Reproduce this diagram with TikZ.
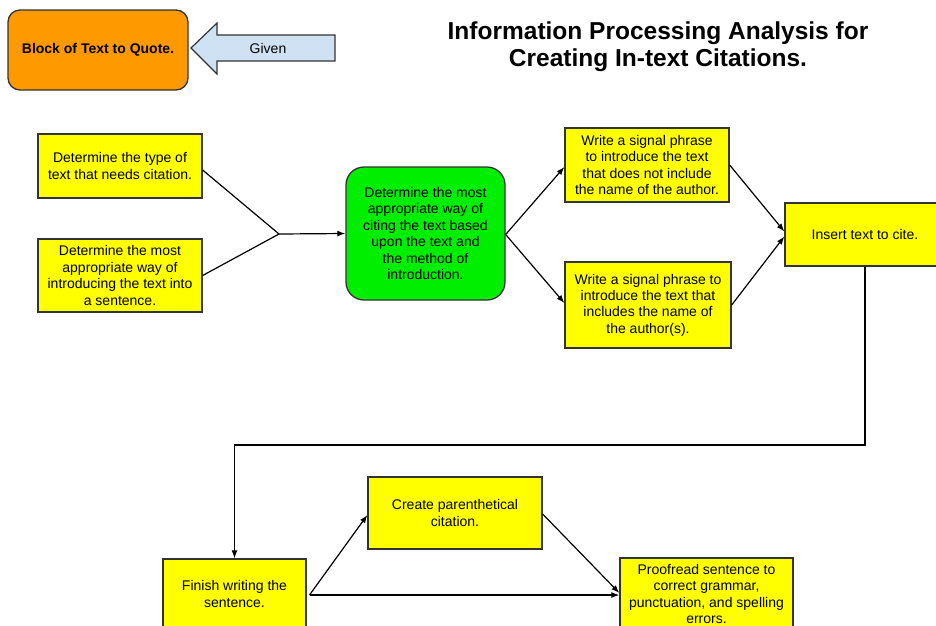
\documentclass[tikz,border=0pt]{standalone}
\usepackage{fontspec}
\setmainfont{Liberation Sans}
\usetikzlibrary{arrows.meta,calc}
\definecolor{boxyellow}{HTML}{FFFF00}
\definecolor{boxorange}{HTML}{FF9900}
\definecolor{boxgreen}{HTML}{00EE00}
\definecolor{givenblue}{HTML}{CFE2F3}
\definecolor{edgegray}{HTML}{333333}
\begin{document}
\begin{tikzpicture}[x=1pt,y=-1pt,
  box/.style={draw=edgegray, fill=boxyellow, line width=1.3pt, align=center, inner sep=0pt,
    font=\fontsize{14}{16.4}\selectfont},
  conn/.style={draw=black, line width=1.2pt, -{Latex[length=8pt,width=6pt]}},
  plainline/.style={draw=black, line width=1.2pt}]
\clip (0,0) rectangle (936,625);
\fill[white] (0,0) rectangle (936,625);

% title
\node[align=center, font=\fontsize{24.5}{27}\selectfont\bfseries] (title) at (658,47)
  {Information Processing Analysis for\\Creating In-text Citations.};

% given block
\node[draw=edgegray, fill=boxorange, line width=1.3pt, rounded corners=12pt,
  minimum width=180pt, minimum height=80pt, inner sep=0pt,
  font=\fontsize{14}{16.4}\selectfont\bfseries] (quote) at (98,50) {Block of Text to Quote.};
\draw[draw=edgegray, fill=givenblue, line width=1.2pt]
  (191,48) -- (217,23) -- (217,35) -- (335,35) -- (335,61) -- (217,61) -- (217,74) -- cycle;
\node[font=\fontsize{14}{16.4}\selectfont] (given) at (268,48) {Given};

% first row
\node[box, minimum width=164pt, minimum height=64pt] (A) at (120,166)
  {Determine the type of\\text that needs citation.};
\node[box, minimum width=164pt, minimum height=73pt] (B) at (120,275.5)
  {Determine the most\\appropriate way of\\introducing the text into\\a sentence.};
\node[box, fill=boxgreen, rounded corners=18pt, minimum width=159pt, minimum height=133pt] (G) at (425.5,233.5)
  {Determine the most\\appropriate way of\\citing the text based\\upon the text and\\the method of\\introduction.};
\node[box, minimum width=164pt, minimum height=74pt] (C) at (647,165)
  {Write a signal phrase\\to introduce the text\\that does not include\\the name of the author.};
\node[box, minimum width=166pt, minimum height=86pt] (D) at (648,305)
  {Write a signal phrase to\\introduce the text that\\includes the name of\\the author(s).};
\node[box, minimum width=160pt, minimum height=63pt] (E) at (865,234.5)
  {Insert text to cite.};

% bottom row
\node[box, minimum width=143pt, minimum height=70pt] (F) at (234.5,594)
  {Finish writing the\\sentence.};
\node[box, minimum width=174pt, minimum height=72pt] (P) at (455,513)
  {Create parenthetical\\citation.};
\node[box, minimum width=173pt, minimum height=72pt] (R) at (706.5,594)
  {Proofread sentence to\\correct grammar,\\punctuation, and spelling\\errors.};

% connectors
\coordinate (j) at (279,234);
\draw[plainline] ($(A.east)+(0,4)$) -- (j);
\draw[plainline] (B.east) -- (j);
\draw[conn] (j) -- (G.west);
\draw[conn] ($(G.east)+(0,1)$) -- ($(C.west)+(0,2)$);
\draw[conn] ($(G.east)+(0,1)$) -- ($(D.west)+(0,-2)$);
\draw[conn] (C.east) -- ($(E.west)+(0,-3)$);
\draw[conn] (D.east) -- ($(E.west)+(0,2)$);

\coordinate (c1) at (865,445);
\coordinate (c2) at (234.5,445);
\draw[conn] (E.south) -- (c1) -- (c2) -- (F.north);

\coordinate (fo) at (309.5,595);
\draw[conn] (fo) -- ($(P.west)+(0,2)$);
\draw[conn] (fo) -- (R.west |- fo);
\draw[conn] ($(P.east)+(0,1)$) -- ($(R.west)+(0,-1)$);
\end{tikzpicture}
\end{document}
